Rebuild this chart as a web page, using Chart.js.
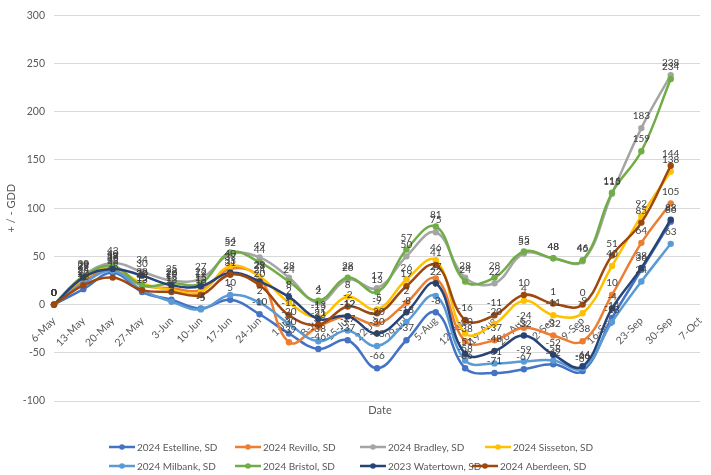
<!DOCTYPE html>
<html><head><meta charset="utf-8">
<script src="https://cdn.jsdelivr.net/npm/chart.js@4.4.1/dist/chart.umd.min.js"></script>
<style>html,body{margin:0;padding:0;background:#fff;}#wrap{width:711px;height:475px;position:relative;}</style>
</head><body><div id="wrap"><canvas id="c"></canvas></div>
<script>
const dates = ['6-May','13-May','20-May','27-May','3-Jun','10-Jun','17-Jun','24-Jun','1-Jul','8-Jul','15-Jul','22-Jul','29-Jul','5-Aug','12-Aug','19-Aug','26-Aug','2-Sep','9-Sep','16-Sep','23-Sep','30-Sep','7-Oct'];
const seriesNames = ['2024 Estelline, SD','2024 Revillo, SD','2024 Bradley, SD','2024 Sisseton, SD','2024 Milbank, SD','2024 Bristol, SD','2023 Watertown, SD','2024 Aberdeen, SD'];
const seriesColors = ['#4472C4','#ED7D31','#A5A5A5','#FFC000','#5B9BD5','#70AD47','#264478','#9E480E'];
const estelline = [0, 16, 33, 13, 5, -4, 5, -10, -30, -46, -37, -66, -37, -8, -66, -71, -67, -62, -69, -14, 36, 86];
const revillo   = [0, 24, 36, 20, 17, 15, 37, 28, -39, -23, -12, -20, 2, 27, -38, -37, -24, -32, -38, 10, 64, 105];
const bradley   = [0, 30, 43, 34, 25, 27, 52, 49, 28, 2, 26, 17, 50, 75, 28, 22, 53, 48, 45, 115, 183, 238];
const sisseton  = [0, 27, 38, 22, 15, 13, 40, 29, 2, -13, 8, -5, 26, 46, -30, -20, 4, -11, -9, 40, 92, 138];
const milbank   = [0, 22, 35, 15, 3, -5, 10, 2, -20, -38, -27, -43, -18, 9, -58, -61, -59, -58, -66, -18, 24, 63];
const bristol   = [0, 29, 40, 20, 22, 22, 54, 44, 24, 4, 28, 13, 57, 81, 24, 28, 55, 48, 46, 116, 159, 234];
const watertown = [0, 28, 37, 30, 20, 19, 33, 24, 8, -15, -12, -30, -8, 22, -51, -48, -32, -52, -64, -4, 38, 88];
const aberdeen  = [0, 20, 28, 15, 13, 10, 31, 20, -11, -21, -2, -9, 19, 41, -16, -11, 10, 1, 0, 51, 85, 144];
const yTicks = {min: -100, max: 300, step: 50};
const seriesData = [estelline, revillo, bradley, sisseton, milbank, bristol, watertown, aberdeen];

const FONT = 'Lato, "Liberation Sans", sans-serif';

const valueLabels = {
  id: 'valueLabels',
  afterDatasetsDraw(chart) {
    const ctx = chart.ctx;
    ctx.save();
    ctx.font = '10px ' + FONT;
    ctx.fillStyle = '#404040';
    ctx.textAlign = 'center';
    ctx.textBaseline = 'middle';
    chart.data.datasets.forEach((ds, i) => {
      const meta = chart.getDatasetMeta(i);
      meta.data.forEach((pt, j) => {
        const v = ds.data[j];
        if (v === null || v === undefined) return;
        ctx.fillText(String(v), pt.x, pt.y - 12);
      });
    });
    ctx.restore();
  }
};

const extras = {
  id: 'extras',
  afterDraw(chart) {
    const ctx = chart.ctx;
    const area = chart.chartArea;
    ctx.save();
    ctx.font = '11px ' + FONT;
    ctx.fillStyle = '#595959';
    ctx.textAlign = 'center';
    ctx.textBaseline = 'middle';
    ctx.fillText('Date', (area.left + area.right) / 2 + 3, 410);
    const rowsY = [447, 466];
    const textX = [[137, 263, 388, 513], [137, 263, 388, 500]];
    ctx.font = '10px ' + FONT;
    ctx.textAlign = 'left';
    chart.data.datasets.forEach((ds, i) => {
      const r = Math.floor(i / 4), c = i % 4;
      const tx = textX[r][c], ty = rowsY[r];
      ctx.strokeStyle = ds.borderColor;
      ctx.lineWidth = 2.5;
      ctx.beginPath();
      ctx.moveTo(tx - 28, ty);
      ctx.lineTo(tx - 2, ty);
      ctx.stroke();
      ctx.fillStyle = ds.borderColor;
      ctx.beginPath();
      ctx.arc(tx - 15, ty, 2.8, 0, Math.PI * 2);
      ctx.fill();
      ctx.fillStyle = '#595959';
      ctx.fillText(ds.label, tx, ty + 0.5);
    });
    ctx.restore();
  }
};

const datasets = seriesNames.map((name, i) => ({
  label: name,
  data: seriesData[i],
  borderColor: seriesColors[i],
  backgroundColor: seriesColors[i],
  borderWidth: 2.5,
  pointRadius: 3.2,
  pointBorderWidth: 0,
  pointBackgroundColor: seriesColors[i],
  tension: 0.4,
  fill: false,
  order: seriesNames.length - i
}));

new Chart(document.getElementById('c'), {
  type: 'line',
  data: { labels: dates, datasets },
  plugins: [valueLabels, extras],
  options: {
    responsive: true,
    maintainAspectRatio: false,
    devicePixelRatio: 1,
    animation: false,
    layout: { padding: { top: 13, right: 6, bottom: 74, left: 0 } },
    plugins: { legend: { display: false }, tooltip: { enabled: false } },
    scales: {
      x: {
        type: 'category',
        position: { y: 0 },
        offset: false,
        grid: { display: false },
        border: { display: false },
        ticks: { autoSkip: false, maxRotation: 45, minRotation: 45, padding: 2, color: '#595959', font: { family: FONT, size: 10.5 } },
        afterFit(s) { s.height = 0; }
      },
      y: {
        min: yTicks.min, max: yTicks.max,
        ticks: { stepSize: yTicks.step, padding: 9, color: '#595959', font: { family: FONT, size: 10.5 } },
        grid: { color: '#D9D9D9', drawTicks: false, lineWidth: 1 },
        border: { display: false },
        title: { display: true, text: '+ / - GDD', color: '#595959', font: { family: FONT, size: 11 }, padding: { top: 5, bottom: 0 } },
        afterFit(s) { s.width = 54; }
      }
    }
  }
});
</script>
</body></html>
